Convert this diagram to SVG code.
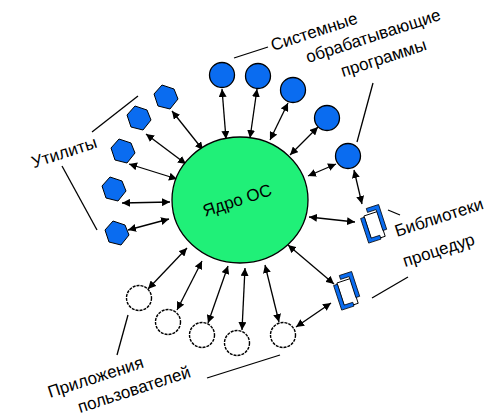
<svg xmlns="http://www.w3.org/2000/svg" width="500" height="420" viewBox="0 0 500 420">
<defs>
<style>
.lbl{font-family:"Liberation Sans",Arial,sans-serif;font-size:17px;fill:#000}
.ln{stroke:#000;stroke-width:1.3;fill:none}
.con{stroke:#000;stroke-width:1.3;fill:none;marker-start:url(#ah);marker-end:url(#ah)}
.sys{fill:#0a6cf0;stroke:#000;stroke-width:1.3}
.usr{fill:#fff;stroke:#000;stroke-width:1.4;stroke-dasharray:3 1}
.utl{fill:#0a6cf0;stroke:#000;stroke-width:1}
.blu{fill:#0a6cf0;stroke:#000;stroke-width:0.8}
.wrec{fill:#fff;stroke:#000;stroke-width:1}
</style>
<marker id="ah" viewBox="0 0 10 10" refX="10" refY="5" markerWidth="8" markerHeight="8" orient="auto-start-reverse" markerUnits="userSpaceOnUse">
<path d="M0,0 L10,5 L0,10 z" fill="#000"/>
</marker>
<path id="tp0" d="M143.8,236.6 L334,174.8"/>
<path id="tp1" d="M-29.2,188.6 L161,126.8"/>
<path id="tp2" d="M273,51 L463.2,-10.8"/>
<path id="tp3" d="M308,63 L498.2,1.2"/>
<path id="tp4" d="M343,77 L533.2,15.2"/>
<path id="tp5" d="M397,237 L587.2,175.2"/>
<path id="tp6" d="M405,267 L595.2,205.2"/>
<path id="tp7" d="M50,398 L240.2,336.2"/>
<path id="tp8" d="M80,413 L270.2,351.2"/>
</defs>
<rect width="500" height="420" fill="#fff"/>
<g id="connectors">
<line class="con" x1="222" y1="89" x2="226" y2="139"/>
<line class="con" x1="257" y1="89" x2="250" y2="138"/>
<line class="con" x1="288" y1="103" x2="270" y2="140"/>
<line class="con" x1="318" y1="127" x2="290" y2="155"/>
<line class="con" x1="336" y1="164" x2="308" y2="176"/>
<line class="con" x1="354" y1="170" x2="362" y2="204"/>
<line class="con" x1="355" y1="222" x2="309" y2="217"/>
<line class="con" x1="334" y1="284" x2="288" y2="245"/>
<line class="con" x1="331" y1="303" x2="296" y2="327"/>
<line class="con" x1="148" y1="289" x2="187" y2="248"/>
<line class="con" x1="177" y1="310" x2="202" y2="261"/>
<line class="con" x1="208" y1="323" x2="228" y2="266"/>
<line class="con" x1="242" y1="330" x2="245" y2="268"/>
<line class="con" x1="279" y1="322" x2="265" y2="265"/>
<line class="con" x1="172" y1="111" x2="203" y2="150"/>
<line class="con" x1="146" y1="134" x2="186" y2="164"/>
<line class="con" x1="129" y1="164" x2="177" y2="179"/>
<line class="con" x1="122" y1="203" x2="170" y2="202"/>
<line class="con" x1="128" y1="230" x2="169" y2="219"/>
</g>
<g id="kernel">
<ellipse cx="240" cy="200" rx="68" ry="63" fill="#20f078" stroke="#000" stroke-width="1.3"/>
<text class="lbl" text-anchor="middle"><textPath href="#tp0" startOffset="50%">Ядро ОС</textPath></text>
</g>
<g id="sys1"><circle class="sys" cx="222" cy="75" r="12.5"/></g>
<g id="sys2"><circle class="sys" cx="258" cy="76" r="12.5"/></g>
<g id="sys3"><circle class="sys" cx="293" cy="90" r="12.5"/></g>
<g id="sys4"><circle class="sys" cx="327" cy="118" r="12.5"/></g>
<g id="sys5"><circle class="sys" cx="348" cy="156" r="12.5"/></g>
<g id="usr1"><circle class="usr" cx="139" cy="298" r="12.5"/></g>
<g id="usr2"><circle class="usr" cx="168" cy="322" r="12.5"/></g>
<g id="usr3"><circle class="usr" cx="202" cy="335" r="12.5"/></g>
<g id="usr4"><circle class="usr" cx="237" cy="343" r="12.5"/></g>
<g id="usr5"><circle class="usr" cx="283" cy="335" r="12.5"/></g>
<g id="utl1"><polygon class="utl" points="162,85 174,89 178,99 170,109 158,106 154,94"/></g>
<g id="utl2"><polygon class="utl" points="135,106 147,110 151,120 143,130 131,127 127,115"/></g>
<g id="utl3"><polygon class="utl" points="119,139 131,143 135,153 127,163 115,160 111,148"/></g>
<g id="utl4"><polygon class="utl" points="110,177 122,181 126,191 118,201 106,198 102,186"/></g>
<g id="utl5"><polygon class="utl" points="113,221 125,225 129,235 121,245 109,242 105,230"/></g>
<g id="lib1">
<polygon class="wrec" points="363.9,216.0 377.2,211.6 385.2,236.3 371.9,240.6"/>
<polygon class="blu" points="360.6,218.5 364.4,217.2 371.2,238.1 379.8,235.3 381.0,239.1 368.7,243.1"/>
<polygon class="blu" points="366.3,208.5 378.6,204.5 386.7,229.3 382.9,230.5 376.1,209.6 367.5,212.4"/>
</g>
<g id="lib2">
<polygon class="wrec" points="336.9,283.0 350.2,278.6 358.2,303.3 344.9,307.6"/>
<polygon class="blu" points="333.6,285.5 337.4,284.2 344.2,305.1 352.8,302.3 354.0,306.1 341.7,310.1"/>
<polygon class="blu" points="339.3,275.5 351.6,271.5 359.7,296.3 355.9,297.5 349.1,276.6 340.5,279.4"/>
</g>
<g id="labels">
<line class="ln" x1="92" y1="132" x2="138" y2="96"/>
<line class="ln" x1="62" y1="166" x2="97" y2="230"/>
<line class="ln" x1="234" y1="58" x2="268" y2="47"/>
<line class="ln" x1="373" y1="83" x2="357" y2="142"/>
<line class="ln" x1="388" y1="210" x2="400" y2="215"/>
<line class="ln" x1="372" y1="298" x2="408" y2="277"/>
<line class="ln" x1="117" y1="355" x2="128" y2="315"/>
<line class="ln" x1="207" y1="378" x2="280" y2="355"/>
<text class="lbl" text-anchor="middle"><textPath href="#tp1" startOffset="50%">Утилиты</textPath></text>
<text class="lbl"><textPath href="#tp2">Системные</textPath></text>
<text class="lbl"><textPath href="#tp3">обрабатывающие</textPath></text>
<text class="lbl"><textPath href="#tp4">программы</textPath></text>
<text class="lbl"><textPath href="#tp5">Библиотеки</textPath></text>
<text class="lbl"><textPath href="#tp6">процедур</textPath></text>
<text class="lbl"><textPath href="#tp7">Приложения</textPath></text>
<text class="lbl"><textPath href="#tp8">пользователей</textPath></text>
</g>
</svg>
